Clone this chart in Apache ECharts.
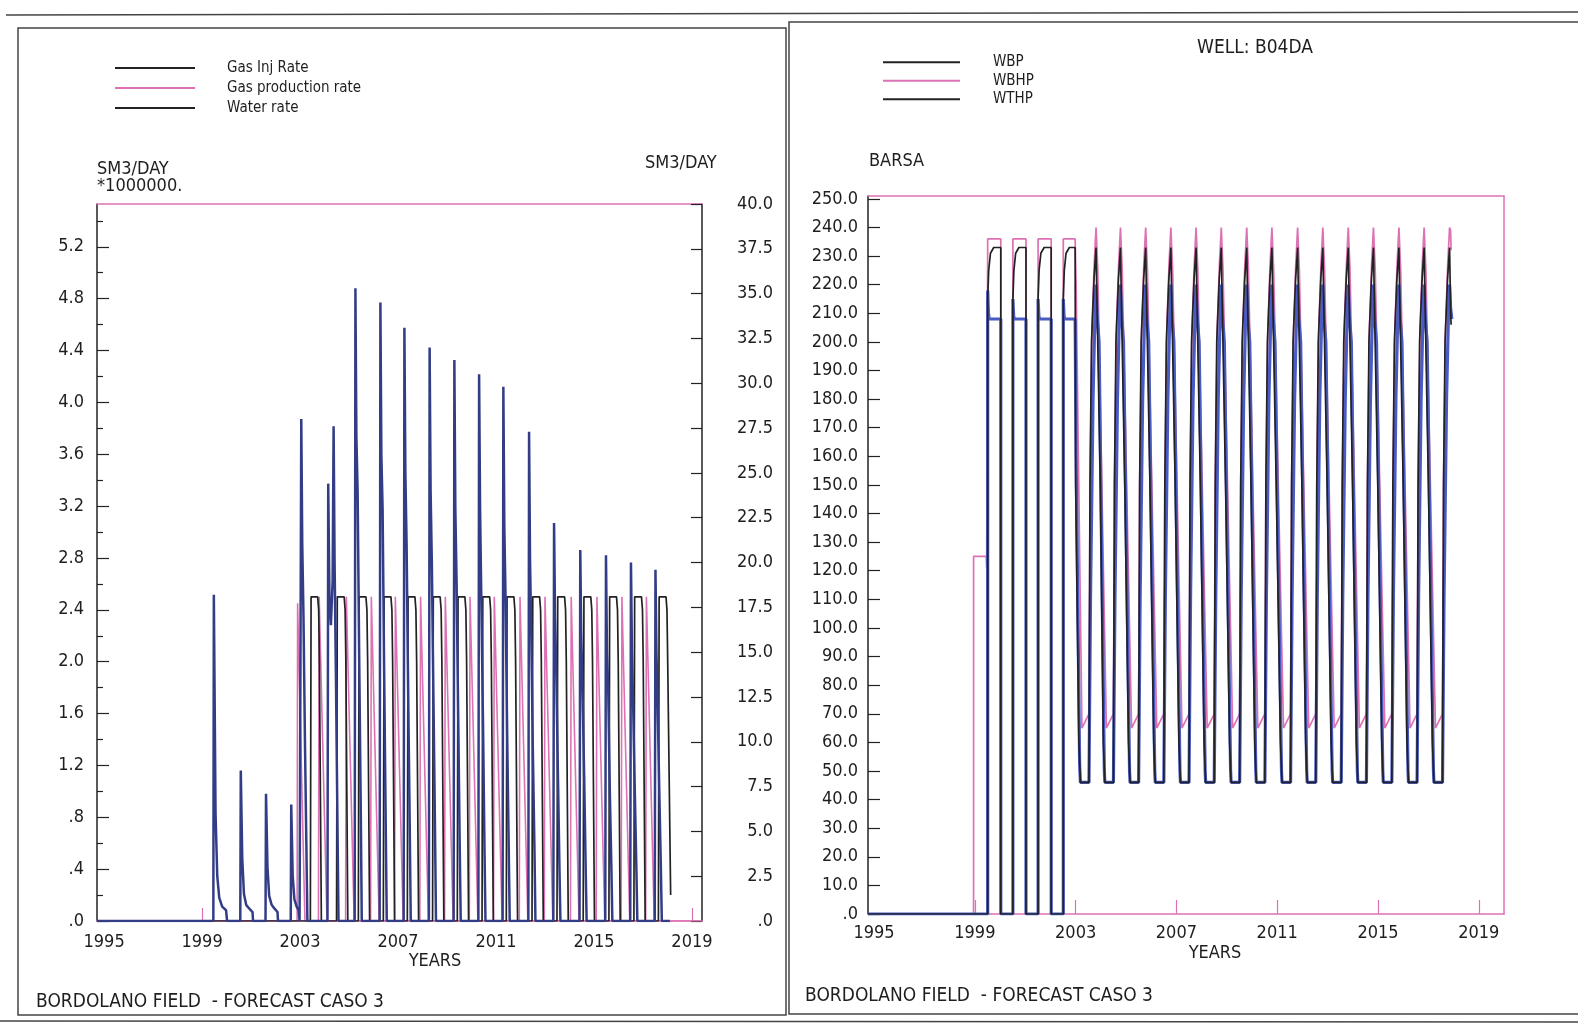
<!DOCTYPE html>
<html>
<head>
<meta charset="utf-8">
<script src="https://cdn.jsdelivr.net/npm/echarts@6/dist/echarts.min.js"></script>
<style>
html,body{margin:0;padding:0;background:#fff;}
#c{width:1578px;height:1026px;}
</style>
</head>
<body>
<div id="c"></div>
<script>
// ---------- tick labels ----------
const yearLabels = [1995, 1999, 2003, 2007, 2011, 2015, 2019];
const yearTicksLeft = [1999, 2019];
const yearTicksRight = [1999, 2003, 2007, 2011, 2015, 2019];
const rateTicksLeft = [0, 0.4, 0.8, 1.2, 1.6, 2.0, 2.4, 2.8, 3.2, 3.6, 4.0, 4.4, 4.8, 5.2];
const rateMinorLeft = [0.2, 0.6, 1.0, 1.4, 1.8, 2.2, 2.6, 3.0, 3.4, 3.8, 4.2, 4.6, 5.0, 5.4];
const rateTicksRight = [0, 2.5, 5, 7.5, 10, 12.5, 15, 17.5, 20, 22.5, 25, 27.5, 30, 32.5, 35, 37.5, 40];
const barsaTicks = [0,10,20,30,40,50,60,70,80,90,100,110,120,130,140,150,160,170,180,190,200,210,220,230,240,250];

// ---------- left panel: rates (gas in SM3/DAY * 1e6, water in SM3/DAY) ----------
const gasInjRate = [
[1994.71,0],[2003.42,0],[2003.45,2.5],[2003.72,2.5],[2003.76,2.4],[2003.79,2.0],[2003.87,0],
[2004.49,0],[2004.52,2.5],[2004.80,2.5],[2004.84,2.4],[2004.87,2.0],[2004.95,0],
[2005.38,0],[2005.41,2.5],[2005.69,2.5],[2005.73,2.4],[2005.76,2.0],[2005.84,0],
[2006.40,0],[2006.43,2.5],[2006.71,2.5],[2006.75,2.4],[2006.78,2.0],[2006.86,0],
[2007.38,0],[2007.41,2.5],[2007.69,2.5],[2007.73,2.4],[2007.76,2.0],[2007.84,0],
[2008.41,0],[2008.44,2.5],[2008.72,2.5],[2008.76,2.4],[2008.79,2.0],[2008.87,0],
[2009.42,0],[2009.45,2.5],[2009.73,2.5],[2009.77,2.4],[2009.80,2.0],[2009.88,0],
[2010.43,0],[2010.46,2.5],[2010.74,2.5],[2010.78,2.4],[2010.81,2.0],[2010.89,0],
[2011.42,0],[2011.45,2.5],[2011.73,2.5],[2011.77,2.4],[2011.80,2.0],[2011.88,0],
[2012.47,0],[2012.50,2.5],[2012.78,2.5],[2012.82,2.4],[2012.85,2.0],[2012.93,0],
[2013.49,0],[2013.52,2.5],[2013.80,2.5],[2013.84,2.4],[2013.87,2.0],[2013.95,0],
[2014.56,0],[2014.59,2.5],[2014.87,2.5],[2014.91,2.4],[2014.94,2.0],[2015.02,0],
[2015.61,0],[2015.64,2.5],[2015.92,2.5],[2015.96,2.4],[2015.99,2.0],[2016.07,0],
[2016.63,0],[2016.66,2.5],[2016.94,2.5],[2016.98,2.4],[2017.01,2.0],[2017.09,0],
[2017.63,0],[2017.66,2.5],[2017.94,2.5],[2017.98,2.4],[2018.01,2.0],[2018.13,0.2]
];
const gasProdRate = [
[1994.71,0],[2002.88,0],[2002.90,2.45],[2002.94,2.45],[2003.20,0],
[2003.75,0],[2003.78,2.5],[2003.82,2.5],[2004.10,0],
[2004.86,0],[2004.89,2.5],[2004.93,2.5],[2005.21,0],
[2005.88,0],[2005.91,2.5],[2005.95,2.5],[2006.23,0],
[2006.86,0],[2006.89,2.5],[2006.93,2.5],[2007.21,0],
[2007.89,0],[2007.92,2.5],[2007.96,2.5],[2008.24,0],
[2008.90,0],[2008.93,2.5],[2008.97,2.5],[2009.25,0],
[2009.91,0],[2009.94,2.5],[2009.98,2.5],[2010.26,0],
[2010.90,0],[2010.93,2.5],[2010.97,2.5],[2011.25,0],
[2011.95,0],[2011.98,2.5],[2012.02,2.5],[2012.30,0],
[2012.97,0],[2013.00,2.5],[2013.04,2.5],[2013.32,0],
[2014.04,0],[2014.07,2.5],[2014.11,2.5],[2014.39,0],
[2015.09,0],[2015.12,2.5],[2015.16,2.5],[2015.44,0],
[2016.11,0],[2016.14,2.5],[2016.18,2.5],[2016.46,0],
[2017.11,0],[2017.14,2.5],[2017.18,2.5],[2017.46,0],
[2019.41,0]
];
const waterRate = [
[1994.71,0],
[1999.46,0],[1999.48,18.2],[1999.55,6.0],[1999.62,2.5],[1999.70,1.3],[1999.82,0.8],[1999.98,0.6],[2000.02,0],
[2000.56,0],[2000.58,8.4],[2000.64,3.5],[2000.71,1.5],[2000.80,0.9],[2000.92,0.7],[2001.06,0.5],[2001.08,0],
[2001.59,0],[2001.61,7.1],[2001.67,3.0],[2001.74,1.4],[2001.84,0.9],[2001.95,0.7],[2002.08,0.5],[2002.10,0],
[2002.62,0],[2002.64,6.5],[2002.70,2.5],[2002.77,1.2],[2002.86,0.8],[2002.94,0.6],[2002.98,0],
[2003.02,0],[2003.05,28.0],[2003.09,21],[2003.14,17],[2003.20,10],[2003.26,4],[2003.30,0],
[2004.12,0],[2004.15,24.4],[2004.20,18],[2004.26,16.5],[2004.33,19],[2004.37,27.6],[2004.41,20],[2004.47,13],[2004.53,5],[2004.57,0],
[2005.23,0],[2005.26,35.3],[2005.30,27],[2005.35,24],[2005.42,14],[2005.48,6],[2005.52,0],
[2006.25,0],[2006.28,34.5],[2006.32,26],[2006.37,23],[2006.44,13],[2006.50,5],[2006.54,0],
[2007.23,0],[2007.26,33.1],[2007.30,25],[2007.35,21],[2007.42,12],[2007.48,5],[2007.52,0],
[2008.26,0],[2008.29,32.0],[2008.33,24],[2008.38,20],[2008.45,12],[2008.51,5],[2008.55,0],
[2009.27,0],[2009.30,31.3],[2009.34,23],[2009.39,19],[2009.46,11],[2009.52,4],[2009.56,0],
[2010.28,0],[2010.31,30.5],[2010.35,23],[2010.40,18],[2010.47,11],[2010.53,4],[2010.57,0],
[2011.27,0],[2011.30,29.8],[2011.34,22],[2011.39,18],[2011.46,10],[2011.52,4],[2011.56,0],
[2012.32,0],[2012.35,27.3],[2012.39,20],[2012.44,16],[2012.51,9],[2012.57,4],[2012.61,0],
[2013.34,0],[2013.37,22.2],[2013.41,17],[2013.46,14],[2013.53,8],[2013.59,3],[2013.63,0],
[2014.41,0],[2014.44,20.7],[2014.48,16],[2014.53,13],[2014.60,8],[2014.66,3],[2014.70,0],
[2015.46,0],[2015.49,20.4],[2015.53,15],[2015.58,13],[2015.65,7],[2015.71,3],[2015.75,0],
[2016.48,0],[2016.51,20.0],[2016.55,15],[2016.60,12],[2016.67,7],[2016.73,3],[2016.77,0],
[2017.48,0],[2017.51,19.6],[2017.55,15],[2017.60,12],[2017.67,7],[2017.73,3],[2017.77,0],[2018.10,0]
];

// ---------- right panel: pressures (BARSA) ----------
const wbhp = [
[1994.76,0],[1998.95,0],[1998.95,125],[1999.45,125],[1999.47,121],[1999.51,121],[1999.51,236],[2000.03,236],[2000.03,0],
[2000.51,0],[2000.51,236],[2001.03,236],[2001.03,0],
[2001.51,0],[2001.51,236],[2002.03,236],[2002.03,0],
[2002.51,0],[2002.51,236],[2002.98,236],[2003.02,220],[2003.25,65],
[2003.53,70],[2003.57,150],[2003.65,205],[2003.74,228],[2003.81,240],[2003.85,240],[2003.88,225],[2004.22,65],
[2004.50,70],[2004.54,150],[2004.62,205],[2004.71,228],[2004.78,240],[2004.82,240],[2004.85,225],[2005.22,65],
[2005.50,70],[2005.54,150],[2005.62,205],[2005.71,228],[2005.78,240],[2005.82,240],[2005.85,225],[2006.22,65],
[2006.50,70],[2006.54,150],[2006.62,205],[2006.71,228],[2006.78,240],[2006.82,240],[2006.85,225],[2007.22,65],
[2007.50,70],[2007.54,150],[2007.62,205],[2007.71,228],[2007.78,240],[2007.82,240],[2007.85,225],[2008.22,65],
[2008.50,70],[2008.54,150],[2008.62,205],[2008.71,228],[2008.78,240],[2008.82,240],[2008.85,225],[2009.23,65],
[2009.51,70],[2009.55,150],[2009.63,205],[2009.72,228],[2009.79,240],[2009.83,240],[2009.86,225],[2010.23,65],
[2010.51,70],[2010.55,150],[2010.63,205],[2010.72,228],[2010.79,240],[2010.83,240],[2010.86,225],[2011.25,65],
[2011.53,70],[2011.57,150],[2011.65,205],[2011.74,228],[2011.81,240],[2011.85,240],[2011.88,225],[2012.25,65],
[2012.53,70],[2012.57,150],[2012.65,205],[2012.74,228],[2012.81,240],[2012.85,240],[2012.88,225],[2013.26,65],
[2013.54,70],[2013.58,150],[2013.66,205],[2013.75,228],[2013.82,240],[2013.86,240],[2013.89,225],[2014.26,65],
[2014.54,70],[2014.58,150],[2014.66,205],[2014.75,228],[2014.82,240],[2014.86,240],[2014.89,225],[2015.27,65],
[2015.55,70],[2015.59,150],[2015.67,205],[2015.76,228],[2015.83,240],[2015.87,240],[2015.90,225],[2016.27,65],
[2016.55,70],[2016.59,150],[2016.67,205],[2016.76,228],[2016.83,240],[2016.87,240],[2016.90,225],[2017.28,65],
[2017.56,70],[2017.60,150],[2017.68,205],[2017.77,228],[2017.84,240],[2017.88,239],[2017.90,232]
];
const wbp = [
[1994.76,0],[1999.51,0],[1999.51,215],[1999.55,225],[1999.62,231],[1999.75,233],[2000.03,233],[2000.03,0],
[2000.51,0],[2000.51,215],[2000.55,225],[2000.62,231],[2000.75,233],[2001.03,233],[2001.03,0],
[2001.51,0],[2001.51,215],[2001.55,225],[2001.62,231],[2001.75,233],[2002.03,233],[2002.03,0],
[2002.51,0],[2002.51,215],[2002.55,225],[2002.62,231],[2002.75,233],[2002.98,233],[2003.00,150],[2003.13,60],[2003.19,46],
[2003.53,46],[2003.57,150],[2003.63,200],[2003.73,222],[2003.81,233],[2003.85,212],[2003.87,203],[2003.94,203],[2003.98,150],[2004.10,60],[2004.16,46],
[2004.50,46],[2004.54,150],[2004.60,200],[2004.70,222],[2004.78,233],[2004.82,212],[2004.84,203],[2004.91,203],[2004.95,150],[2005.10,60],[2005.16,46],
[2005.50,46],[2005.54,150],[2005.60,200],[2005.70,222],[2005.78,233],[2005.82,212],[2005.84,203],[2005.91,203],[2005.95,150],[2006.10,60],[2006.16,46],
[2006.50,46],[2006.54,150],[2006.60,200],[2006.70,222],[2006.78,233],[2006.82,212],[2006.84,203],[2006.91,203],[2006.95,150],[2007.10,60],[2007.16,46],
[2007.50,46],[2007.54,150],[2007.60,200],[2007.70,222],[2007.78,233],[2007.82,212],[2007.84,203],[2007.91,203],[2007.95,150],[2008.10,60],[2008.16,46],
[2008.50,46],[2008.54,150],[2008.60,200],[2008.70,222],[2008.78,233],[2008.82,212],[2008.84,203],[2008.91,203],[2008.95,150],[2009.11,60],[2009.17,46],
[2009.51,46],[2009.55,150],[2009.61,200],[2009.71,222],[2009.79,233],[2009.83,212],[2009.85,203],[2009.92,203],[2009.96,150],[2010.11,60],[2010.17,46],
[2010.51,46],[2010.55,150],[2010.61,200],[2010.71,222],[2010.79,233],[2010.83,212],[2010.85,203],[2010.92,203],[2010.96,150],[2011.13,60],[2011.19,46],
[2011.53,46],[2011.57,150],[2011.63,200],[2011.73,222],[2011.81,233],[2011.85,212],[2011.87,203],[2011.94,203],[2011.98,150],[2012.13,60],[2012.19,46],
[2012.53,46],[2012.57,150],[2012.63,200],[2012.73,222],[2012.81,233],[2012.85,212],[2012.87,203],[2012.94,203],[2012.98,150],[2013.14,60],[2013.20,46],
[2013.54,46],[2013.58,150],[2013.64,200],[2013.74,222],[2013.82,233],[2013.86,212],[2013.88,203],[2013.95,203],[2013.99,150],[2014.14,60],[2014.20,46],
[2014.54,46],[2014.58,150],[2014.64,200],[2014.74,222],[2014.82,233],[2014.86,212],[2014.88,203],[2014.95,203],[2014.99,150],[2015.15,60],[2015.21,46],
[2015.55,46],[2015.59,150],[2015.65,200],[2015.75,222],[2015.83,233],[2015.87,212],[2015.89,203],[2015.96,203],[2016.00,150],[2016.15,60],[2016.21,46],
[2016.55,46],[2016.59,150],[2016.65,200],[2016.75,222],[2016.83,233],[2016.87,212],[2016.89,203],[2016.96,203],[2017.00,150],[2017.16,60],[2017.22,46],
[2017.56,46],[2017.60,150],[2017.66,200],[2017.76,222],[2017.84,233],[2017.88,212],[2017.90,206]
];
const wthp = [
[1994.76,0],[1999.51,0],[1999.51,218],[1999.54,210],[1999.57,208],[2000.03,208],[2000.03,0],
[2000.51,0],[2000.51,215],[2000.54,209],[2000.57,208],[2001.03,208],[2001.03,0],
[2001.51,0],[2001.51,215],[2001.54,209],[2001.57,208],[2002.03,208],[2002.03,0],
[2002.51,0],[2002.51,215],[2002.54,209],[2002.57,208],[2002.98,208],[2003.02,160],[2003.16,52],[2003.19,46],
[2003.53,46],[2003.59,110],[2003.69,180],[2003.78,215],[2003.81,220],[2003.86,208],[2003.93,200],[2004.14,50],[2004.16,46],
[2004.50,46],[2004.56,110],[2004.66,180],[2004.75,215],[2004.78,220],[2004.83,208],[2004.90,200],[2005.14,50],[2005.16,46],
[2005.50,46],[2005.56,110],[2005.66,180],[2005.75,215],[2005.78,220],[2005.83,208],[2005.90,200],[2006.14,50],[2006.16,46],
[2006.50,46],[2006.56,110],[2006.66,180],[2006.75,215],[2006.78,220],[2006.83,208],[2006.90,200],[2007.14,50],[2007.16,46],
[2007.50,46],[2007.56,110],[2007.66,180],[2007.75,215],[2007.78,220],[2007.83,208],[2007.90,200],[2008.14,50],[2008.16,46],
[2008.50,46],[2008.56,110],[2008.66,180],[2008.75,215],[2008.78,220],[2008.83,208],[2008.90,200],[2009.15,50],[2009.17,46],
[2009.51,46],[2009.57,110],[2009.67,180],[2009.76,215],[2009.79,220],[2009.84,208],[2009.91,200],[2010.15,50],[2010.17,46],
[2010.51,46],[2010.57,110],[2010.67,180],[2010.76,215],[2010.79,220],[2010.84,208],[2010.91,200],[2011.17,50],[2011.19,46],
[2011.53,46],[2011.59,110],[2011.69,180],[2011.78,215],[2011.81,220],[2011.86,208],[2011.93,200],[2012.17,50],[2012.19,46],
[2012.53,46],[2012.59,110],[2012.69,180],[2012.78,215],[2012.81,220],[2012.86,208],[2012.93,200],[2013.18,50],[2013.20,46],
[2013.54,46],[2013.60,110],[2013.70,180],[2013.79,215],[2013.82,220],[2013.87,208],[2013.94,200],[2014.18,50],[2014.20,46],
[2014.54,46],[2014.60,110],[2014.70,180],[2014.79,215],[2014.82,220],[2014.87,208],[2014.94,200],[2015.19,50],[2015.21,46],
[2015.55,46],[2015.61,110],[2015.71,180],[2015.80,215],[2015.83,220],[2015.88,208],[2015.95,200],[2016.19,50],[2016.21,46],
[2016.55,46],[2016.61,110],[2016.71,180],[2016.80,215],[2016.83,220],[2016.88,208],[2016.95,200],[2017.20,50],[2017.22,46],
[2017.56,46],[2017.62,110],[2017.72,180],[2017.81,215],[2017.84,220],[2017.88,212],[2017.93,208]
];

// ---------- styling ----------
const FONT = '"DejaVu Sans Condensed", "Liberation Sans Narrow", sans-serif';
const INK = '#222222';
const PINK = '#dc72b4';
const NAVY = '#323d86';
const BLUE = '#4a5cc4';
const TXT = '#1e1e1e';

function fmtRate(v){ if (v === 0) return '.0'; const s = (+v).toFixed(1); return v < 1 ? s.slice(1) : s; }
function fmtR(v){ return v === 0 ? '.0' : (+v).toFixed(1); }
const lbl = (extra) => Object.assign({color: TXT, fontFamily: FONT, fontSize: 18}, extra);

const chart = echarts.init(document.getElementById('c'), null, {renderer: 'canvas'});

const option = {
  animation: false,
  backgroundColor: '#ffffff',
  grid: [
    {left: 97, top: 204, width: 605, height: 717},
    {left: 868, top: 196, width: 636, height: 718}
  ],
  legend: [
    {
      data: ['Gas Inj Rate', 'Gas production rate', {name: 'Water rate', itemStyle: {color: INK}}],
      orient: 'vertical', left: 110, top: 53, icon: 'rect', itemWidth: 80, itemHeight: 2, itemGap: 0,
      selectedMode: false,
      textStyle: {fontFamily: FONT, fontSize: 15, lineHeight: 20, color: TXT, padding: [0, 0, 0, 27]}
    },
    {
      data: ['WBP', 'WBHP', {name: 'WTHP', itemStyle: {color: INK}}],
      orient: 'vertical', left: 878, top: 48, icon: 'rect', itemWidth: 77, itemHeight: 2, itemGap: 0,
      selectedMode: false,
      textStyle: {fontFamily: FONT, fontSize: 15, lineHeight: 18.5, color: TXT, padding: [0, 0, 0, 28]}
    }
  ],
  xAxis: [
    {gridIndex: 0, type: 'value', position: 'bottom', min: 1994.71, max: 2019.41,
      axisLine: {onZero: false, lineStyle: {color: PINK, width: 1.5}},
      axisTick: {inside: true, length: 13, customValues: yearTicksLeft, lineStyle: {color: PINK, width: 1.2}},
      axisLabel: lbl({customValues: yearLabels, margin: 12, formatter: v => String(Math.round(v))}),
      splitLine: {show: false}},
    {gridIndex: 0, type: 'value', position: 'top', min: 1994.71, max: 2019.41,
      axisLine: {onZero: false, lineStyle: {color: PINK, width: 1.5}},
      axisTick: {show: false}, axisLabel: {show: false}, splitLine: {show: false}},
    {gridIndex: 1, type: 'value', position: 'bottom', min: 1994.76, max: 2020.0,
      axisLine: {onZero: false, lineStyle: {color: PINK, width: 1.5}},
      axisTick: {inside: true, length: 14, customValues: yearTicksRight, lineStyle: {color: PINK, width: 1.2}},
      axisLabel: lbl({customValues: yearLabels, margin: 10, formatter: v => String(Math.round(v))}),
      splitLine: {show: false}},
    {gridIndex: 1, type: 'value', position: 'top', min: 1994.76, max: 2020.0,
      axisLine: {onZero: false, lineStyle: {color: PINK, width: 1.5}},
      axisTick: {show: false}, axisLabel: {show: false}, splitLine: {show: false}}
  ],
  yAxis: [
    {gridIndex: 0, type: 'value', position: 'left', min: 0, max: 5.53,
      axisLine: {show: true, onZero: false, lineStyle: {color: INK, width: 1.5}},
      axisTick: {inside: true, length: 12, customValues: rateTicksLeft, lineStyle: {color: INK, width: 1.2}},
      axisLabel: lbl({customValues: rateTicksLeft, margin: 13, formatter: fmtRate}),
      splitLine: {show: false}},
    {gridIndex: 0, type: 'value', position: 'left', min: 0, max: 5.53,
      axisLine: {show: false, onZero: false},
      axisTick: {inside: true, length: 6, customValues: rateMinorLeft, lineStyle: {color: INK, width: 1.2}},
      axisLabel: {show: false}, splitLine: {show: false}},
    {gridIndex: 0, type: 'value', position: 'right', min: 0, max: 40,
      axisLine: {show: true, onZero: false, lineStyle: {color: INK, width: 1.5}},
      axisTick: {inside: true, length: 11, customValues: rateTicksRight, lineStyle: {color: INK, width: 1.2}},
      axisLabel: lbl({customValues: rateTicksRight, margin: 71, align: 'right', formatter: fmtR}),
      splitLine: {show: false}},
    {gridIndex: 1, type: 'value', position: 'left', min: 0, max: 251,
      axisLine: {show: true, onZero: false, lineStyle: {color: INK, width: 1.5}},
      axisTick: {inside: true, length: 12, customValues: barsaTicks, lineStyle: {color: INK, width: 1.2}},
      axisLabel: lbl({customValues: barsaTicks, margin: 10, formatter: fmtR}),
      splitLine: {show: false}},
    {gridIndex: 1, type: 'value', position: 'right', min: 0, max: 251,
      axisLine: {show: true, onZero: false, lineStyle: {color: PINK, width: 1.5}},
      axisTick: {show: false}, axisLabel: {show: false}, splitLine: {show: false}}
  ],
  series: [
    {name: 'Gas production rate', type: 'line', xAxisIndex: 0, yAxisIndex: 0, data: gasProdRate,
      showSymbol: false, color: PINK, lineStyle: {color: PINK, width: 1.6}},
    {name: 'Gas Inj Rate', type: 'line', xAxisIndex: 0, yAxisIndex: 0, data: gasInjRate,
      showSymbol: false, color: INK, lineStyle: {color: INK, width: 1.7}},
    {name: 'Water rate', type: 'line', xAxisIndex: 0, yAxisIndex: 2, data: waterRate,
      showSymbol: false, color: NAVY, lineStyle: {color: NAVY, width: 2.5}},
    {name: 'WBHP', type: 'line', xAxisIndex: 2, yAxisIndex: 3, data: wbhp,
      showSymbol: false, color: PINK, lineStyle: {color: PINK, width: 1.7}},
    {name: 'WTHP', type: 'line', xAxisIndex: 2, yAxisIndex: 3, data: wthp,
      showSymbol: false, color: BLUE, lineStyle: {color: BLUE, width: 3.2}},
    {name: 'WBP', type: 'line', xAxisIndex: 2, yAxisIndex: 3, data: wbp,
      showSymbol: false, color: INK, lineStyle: {color: INK, width: 1.7}}
  ],
  graphic: [
    {type: 'line', shape: {x1: 6, y1: 15, x2: 1578, y2: 12}, style: {stroke: '#444', lineWidth: 1.5}},
    {type: 'rect', shape: {x: 18, y: 28, width: 768, height: 987}, style: {fill: 'none', stroke: '#444', lineWidth: 1.5}},
    {type: 'rect', shape: {x: 789, y: 22, width: 800, height: 992}, style: {fill: 'none', stroke: '#444', lineWidth: 1.5}},
    {type: 'line', shape: {x1: 0, y1: 1021, x2: 1578, y2: 1022}, style: {stroke: '#444', lineWidth: 1.5}},
    {type: 'text', left: 97, top: 160, style: {text: 'SM3/DAY', font: '18px ' + FONT, fill: TXT}},
    {type: 'text', left: 97, top: 177, style: {text: '*1000000.', font: '18px ' + FONT, fill: TXT}},
    {type: 'text', left: 645, top: 154, style: {text: 'SM3/DAY', font: '18px ' + FONT, fill: TXT}},
    {type: 'text', left: 869, top: 152, style: {text: 'BARSA', font: '18px ' + FONT, fill: TXT}},
    {type: 'text', left: 1197, top: 39, style: {text: 'WELL: B04DA', font: '19px ' + FONT, fill: TXT}},
    {type: 'text', x: 435, y: 961, style: {text: 'YEARS', font: '18px ' + FONT, fill: TXT, textAlign: 'center', textVerticalAlign: 'middle'}},
    {type: 'text', x: 1215, y: 953, style: {text: 'YEARS', font: '18px ' + FONT, fill: TXT, textAlign: 'center', textVerticalAlign: 'middle'}},
    {type: 'text', x: 36, y: 1002, style: {text: 'BORDOLANO FIELD  - FORECAST CASO 3', font: '19px ' + FONT, fill: TXT, textVerticalAlign: 'middle'}},
    {type: 'text', x: 805, y: 996, style: {text: 'BORDOLANO FIELD  - FORECAST CASO 3', font: '19px ' + FONT, fill: TXT, textVerticalAlign: 'middle'}}
  ]
};
chart.setOption(option);
</script>
</body>
</html>
